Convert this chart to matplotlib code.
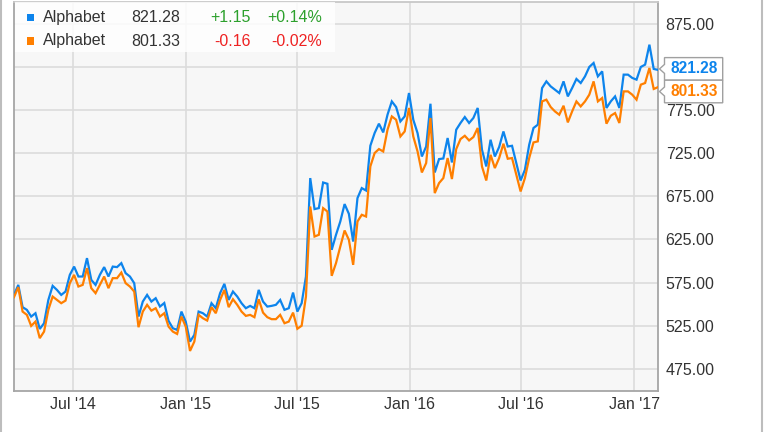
import matplotlib
matplotlib.use("Agg")
import matplotlib.pyplot as plt
import matplotlib.dates as mdates
from matplotlib.patches import Rectangle, Polygon
from matplotlib.lines import Line2D
import pandas as pd
import numpy as np

plt.rcParams['font.family'] = ['Liberation Sans', 'DejaVu Sans']

# ---------------- data ----------------
start_date = "2014-03-27"
n_points = 151
series_names = ["Alphabet", "Alphabet"]

blue_values = [
    560.7, 572.3, 546.5, 543.4, 535.6, 539.5, 521.3, 527.9, 554.9, 571.2,
    566.5, 560.7, 564.6, 583.9, 593.5, 582.0, 582.0, 603.3, 578.1, 572.3,
    583.9, 592.9, 582.0, 593.5, 592.9, 597.5, 585.9, 582.0, 574.3, 535.6,
    553.0, 560.7, 553.0, 556.9, 547.2, 551.3, 530.6, 522.1, 520.2, 541.4,
    529.8, 506.6, 514.4, 541.4, 539.5, 535.6, 551.1, 545.3, 562.7, 573.5,
    554.9, 564.6, 558.8, 551.1, 545.3, 548.0, 545.3, 566.5, 553.0, 547.2,
    548.0, 549.2, 554.9, 543.4, 545.3, 563.4, 541.4, 551.1, 582.0, 696.0,
    660.1, 661.2, 690.9, 689.4, 612.9, 630.3, 645.7, 665.9, 654.6, 622.5,
    672.8, 684.4, 681.6, 733.5, 748.2, 759.0, 748.9, 769.4, 784.8, 778.3,
    761.6, 767.4, 794.5, 763.6, 748.0, 721.0, 732.6, 782.1, 702.5, 718.0,
    718.7, 742.4, 714.1, 752.0, 759.8, 766.7, 759.8, 765.6, 777.2, 728.8,
    709.5, 740.4, 721.0, 732.0, 750.0, 732.6, 733.4, 713.4, 693.2, 705.6,
    734.6, 754.0, 757.8, 800.3, 808.0, 802.2, 798.4, 794.5, 808.0, 790.6,
    800.3, 810.8, 806.1, 813.8, 824.7, 829.3, 813.8, 819.6, 777.2, 784.8,
    790.6, 777.2, 815.8, 815.8, 812.0, 810.0, 824.7, 827.4, 850.5, 822.4,
    821.28,
]

orange_values = [
    558.1, 569.7, 541.4, 537.6, 524.8, 529.8, 510.6, 518.2, 543.4, 558.8,
    554.9, 551.1, 554.1, 574.3, 583.9, 570.4, 572.3, 591.7, 568.5, 562.7,
    572.3, 582.0, 568.5, 580.1, 580.1, 586.6, 574.3, 570.4, 564.6, 523.3,
    541.4, 549.2, 542.5, 545.3, 535.6, 539.5, 524.0, 518.2, 515.5, 535.6,
    524.0, 495.8, 506.6, 537.6, 533.7, 531.0, 546.5, 539.5, 554.9, 566.5,
    546.5, 555.7, 549.2, 541.4, 536.4, 537.6, 534.9, 555.7, 540.2, 534.9,
    532.6, 532.6, 537.6, 527.9, 529.8, 540.2, 521.5, 525.0, 558.8, 663.1,
    628.3, 630.3, 661.2, 657.3, 582.8, 597.5, 616.7, 635.3, 624.5, 595.5,
    645.7, 653.5, 651.5, 709.5, 725.0, 729.6, 726.8, 752.0, 767.4, 763.6,
    744.2, 750.0, 777.2, 744.2, 726.8, 702.5, 713.4, 765.6, 678.6, 690.2,
    696.0, 719.2, 694.9, 729.6, 741.2, 745.0, 739.6, 743.5, 754.0, 709.5,
    693.2, 723.0, 707.6, 719.2, 735.8, 718.4, 719.2, 699.8, 680.5, 696.0,
    719.2, 737.3, 738.5, 784.8, 786.8, 778.3, 773.2, 769.4, 779.8, 760.5,
    773.2, 784.8, 779.0, 784.8, 792.6, 808.0, 784.8, 788.7, 759.0, 768.2,
    771.3, 759.8, 796.4, 796.4, 792.6, 786.8, 804.2, 806.1, 823.5, 799.2,
    801.33,
]

legend_last = ["821.28", "801.33"]
legend_change = ["+1.15", "-0.16"]
legend_pct = ["+0.14%", "-0.02%"]

x_tick_dates = ["2014-07-01", "2015-01-01", "2015-07-01", "2016-01-01",
                "2016-07-01", "2017-01-01"]
x_tick_labels = ["Jul '14", "Jan '15", "Jul '15", "Jan '16", "Jul '16", "Jan '17"]
y_ticks = [475, 525, 575, 625, 675, 725, 775, 825, 875]
# 825.00 is hidden behind the price tags in the reference
y_tick_labels = ["475.00", "525.00", "575.00", "625.00", "675.00", "725.00",
                 "775.00", "", "875.00"]

# ---------------- styling ----------------
BLUE = "#0d84ec"
ORANGE = "#ff7f00"
GREEN = "#2ca02c"
RED = "#ee2222"
TXT = "#333333"
FS = 11.5

W, H = 764, 432
dates = pd.date_range(start_date, periods=n_points, freq="7D")

fig = plt.figure(figsize=(W / 100, H / 100), dpi=100)
fig.patch.set_facecolor("white")
ax = fig.add_axes([14 / W, 1 - 390.5 / H, 644 / W, 389 / H])
ax.set_facecolor("#f7f7f7")

ax.plot(dates, blue_values, color=BLUE, lw=1.6, zorder=3, solid_joinstyle="miter")
ax.plot(dates, orange_values, color=ORANGE, lw=1.6, zorder=3, solid_joinstyle="miter")

ax.set_xlim(dates[0], dates[-1])
ax.set_ylim(450, 900.5)

ax.set_xticks(pd.to_datetime(x_tick_dates))
ax.set_xticklabels(x_tick_labels)
ax.set_yticks(y_ticks)
ax.set_yticklabels(y_tick_labels)
ax.yaxis.tick_right()
ax.tick_params(axis="both", length=0, labelsize=FS, colors=TXT)
ax.tick_params(axis="y", pad=5.5)
ax.tick_params(axis="x", pad=4.5)
for lab in ax.get_yticklabels():
    lab.set_horizontalalignment("left")

ax.grid(True, color="#dcdcdc", lw=1.2, zorder=0)
ax.set_axisbelow(True)
for s in ["left", "bottom", "right", "top"]:
    ax.spines[s].set_color("#a6a6a6")
    ax.spines[s].set_linewidth(1.3)
ax.spines["top"].set_color("#c8c8c8")


def fx(px):
    return px / W


def fy(py):
    return 1 - py / H


# figure side borders
fig.add_artist(Line2D([fx(1), fx(1)], [0, 1], color="#bdbdbd", lw=1.5))
fig.add_artist(Line2D([fx(762), fx(762)], [0, 1], color="#bdbdbd", lw=1.5))

# legend block
fig.add_artist(Rectangle((fx(15), fy(52)), fx(335) - fx(15), fy(2) - fy(52),
                         transform=fig.transFigure, facecolor="white",
                         edgecolor="none", alpha=0.82, zorder=5))
rows_y = [17.5, 41]
colors = [BLUE, ORANGE]
for i in range(2):
    y = rows_y[i]
    fig.add_artist(Rectangle((fx(26.5), fy(y + 3.5)), fx(7), 7 / H,
                             transform=fig.transFigure, facecolor=colors[i],
                             edgecolor="none", zorder=6))
    fig.text(fx(43), fy(y), series_names[i], ha="left", va="center",
             fontsize=FS, color=TXT, zorder=7)
    fig.text(fx(180), fy(y), legend_last[i], ha="right", va="center",
             fontsize=FS, color=TXT, zorder=7)
    c = GREEN if legend_change[i].startswith("+") else RED
    fig.text(fx(251), fy(y), legend_change[i], ha="right", va="center",
             fontsize=FS, color=c, zorder=7)
    fig.text(fx(322), fy(y), legend_pct[i], ha="right", va="center",
             fontsize=FS, color=c, zorder=7)

# price tags on the right
def end_py(val):
    xd = mdates.date2num(dates[-1])
    _, yd = ax.transData.transform((xd, val))
    return H - yd

tag_h = 22.6
box_l, box_r, tip_x = 664.5, 722.7, 659.5
c1 = end_py(blue_values[-1]) - 1
c2 = max(end_py(orange_values[-1]), c1 + tag_h)
for cy, col, txt in [(c1, BLUE, legend_last[0]), (c2, ORANGE, legend_last[1])]:
    top, bot = cy - tag_h / 2, cy + tag_h / 2
    pts = [(box_l, top), (box_r, top), (box_r, bot), (box_l, bot),
           (box_l, cy + 4.5), (tip_x, cy), (box_l, cy - 4.5)]
    fig.add_artist(Polygon([(fx(a), fy(b)) for a, b in pts], closed=True,
                           transform=fig.transFigure, facecolor="white",
                           edgecolor="#a0a0a0", lw=1.0, zorder=8))
    fig.text(fx((box_l + box_r) / 2 + 0.5), fy(cy), txt, ha="center", va="center",
             fontsize=FS - 0.3, fontweight="bold", color=col, zorder=9)

fig.savefig("out.png", dpi=100, facecolor="white")
